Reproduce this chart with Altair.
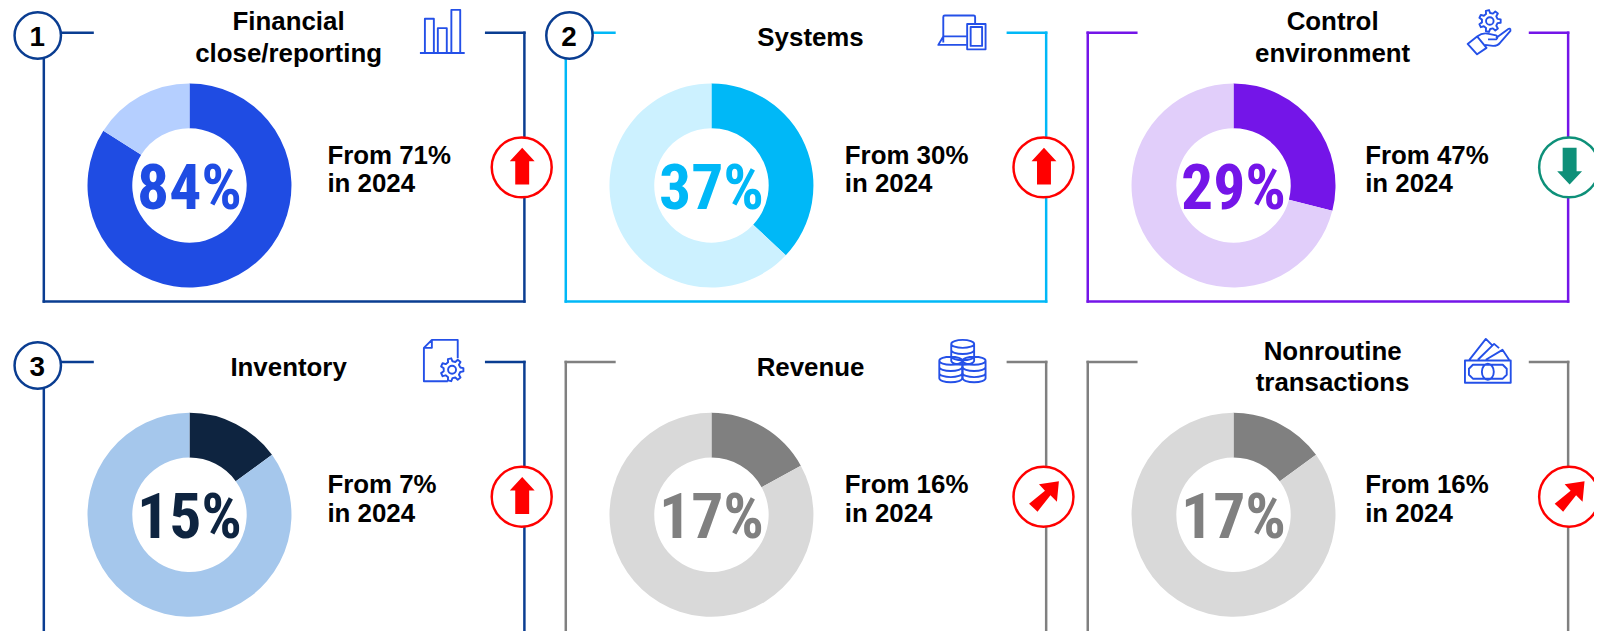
import math
import altair as alt
import pandas as pd

# ---------- values ----------
titles = [["Financial", "close/reporting"], ["Systems"], ["Control", "environment"],
          ["Inventory"], ["Revenue"], ["Nonroutine", "transactions"]]
labels = ["84%", "37%", "29%", "15%", "17%", "17%"]
slice_values = [84, 37, 29, 15, 17, 15]
from_lines = ["From 71%", "From 30%", "From 47%", "From 7%", "From 16%", "From 16%"]
year_line = "in 2024"
directions = ["up", "up", "down", "up", "diag", "diag"]
numbers = ["1", "2", None, "3", None, None]

# ---------- styles ----------
main_colors = ["#1F4CE3", "#00B8F7", "#7415E8", "#0E2440", "#808080", "#808080"]
light_colors = ["#B5CFFF", "#CCF1FF", "#E1CEFA", "#A5C7EC", "#D9D9D9", "#D9D9D9"]
frame_colors = ["#0A3D91", "#00B8F7", "#7415E8", "#0A3D91", "#808080", "#808080"]
NAVY, ICON, RED, GREEN = "#0A3D91", "#2450E8", "#FF0000", "#0E9079"

# ---------- layout (page pixels) ----------
W, H = 1594, 623
col_left = [44, 568.6, 1093.2]
col_right = [527, 1051.4, 1576]
col_title = [290, 814.6, 1339.3]
col_gap_l = [93, 617.5, 1142]
col_gap_r = [488.6, 1012.9, 1537.7]
col_cx = [190.4, 715, 1239.7]
col_text = [329, 849, 1372]
row_top = [31.3, 362.3]
row_bottom = [301.5, 640]
row_dy = [0, 331]
x_scale = alt.Scale(domain=[8, 8 + W], range=[0, W], nice=False, zero=False)
y_scale = alt.Scale(domain=[8, 8 + H], range=[0, H], nice=False, zero=False)
X = lambda f: alt.X(f, type="quantitative", scale=x_scale, axis=None)
Y = lambda f: alt.Y(f, type="quantitative", scale=y_scale, axis=None)


def gear(cx, cy, ro, ri, rh, n=7):
    pts = []
    for k in range(n):
        a = 2 * math.pi * k / n
        s = 2 * math.pi / n
        for off, r in [(-0.30, ri), (-0.17, ro), (0.17, ro), (0.30, ri)]:
            t = a + off * s
            pts.append((cx + r * math.cos(t), cy + r * math.sin(t)))
    d = "M" + "L".join(f"{p:.1f},{q:.1f}" for p, q in pts) + "Z"
    d += f"M{cx - rh:.1f},{cy:.1f}a{rh},{rh} 0 1,0 {2*rh},0a{rh},{rh} 0 1,0 {-2*rh},0"
    return d


def stack(cx, top, bottom, rx=11.5, ry=4, step=6.2):
    d = f"M{cx-rx},{top}a{rx},{ry} 0 1,0 {2*rx},0a{rx},{ry} 0 1,0 {-2*rx},0"
    d += f"M{cx-rx},{top}V{bottom}a{rx},{ry} 0 0,0 {2*rx},0V{top}"
    y = top + step
    while y < bottom - 1:
        d += f"M{cx-rx},{y}a{rx},{ry} 0 0,0 {2*rx},0"
        y += step
    return d


icon_paths = [
    "M-23,21.7H22M-18,21.7V-12.7H-9V21.7M-5,21.7V-3.3H4V21.7M8.6,21.7V-21.7H17.5V21.7",
    "M-18,10V-15.5Q-18,-17 -16.5,-17H12.5Q14,-17 14,-15.5V-9M-18,4L-23,12.5H5M-18,4H5"
    "M6,-8.5H24.5V17H6ZM9.5,-5.5H21V13.5H9.5Z",
    gear(0.8, -11, 11, 8, 3.8)
    + "M-21.5,12L-12,4.5L-2.5,16L-12,22.5ZM-12,4.5Q-6,0 0,2L7,3.5Q10,5 7,7.5L-1,7.5"
      "M7,6L18,-2Q22,-5 21.5,-1L11,11Q9,14 4,14L-4,13",
    "M14,-2V-20.5H-12L-20,-12.5V21H4M-12,-20.5V-12.5H-20" + gear(8.3, 9.5, 11.5, 8.5, 4),
    stack(0, -17, 0) + stack(-12, 0, 17.5) + stack(11.5, 0, 17.5),
    "M-23,0.7H23V23H-23ZM-15,5H15L19,9V15L15,19H-15L-19,15V9ZM6,12a6,8 0 1,0 -12,0a6,8 0 1,0 12,0"
    "M-18.6,0L-2,-21L5,-14M-10,0L6.3,-16L11.3,-11.7M-2,0L14.7,-10L21.4,0",
]
icon_xy = [(445, 30), (966, 31), (1496.5, 30.5), (446, 360.5), (967.5, 361), (1495.3, 360)]
arrow_paths = {
    "up": "M0,-18.5L12.5,-5H7V18.5H-7V-5H-12.5Z",
    "down": "M0,18.5L12.5,5H7V-18.5H-7V5H-12.5Z",
    "diag": "M15,-15.5L13,5L6.5,-1.5L-6.5,15L-15,7L1,-6L-5,-12.5Z",
}

# ---------- tables ----------
arcs, hrules, vrules, bigs, small, heads, circles, nums, arrows, icons = ([] for _ in range(10))
for i in range(6):
    c, r = i % 3, i // 3
    dy = row_dy[r]
    cx, cy = col_cx[c], 184.8 + dy
    v = slice_values[i]
    fc = frame_colors[i]
    arcs.append(dict(x=cx, y=cy, start=0, end=v, color=main_colors[i]))
    arcs.append(dict(x=cx, y=cy, start=v, end=100, color=light_colors[i]))
    top, bot = row_top[r], row_bottom[r]
    left, right = col_left[c], col_right[c]
    has_num = numbers[i] is not None
    num_cx = {0: 37.9, 1: 572.3}.get(c, 0)
    num_cy = 34 + dy + (0.7 if r else 0)
    hrules.append(dict(x=(num_cx if has_num else left), x2=col_gap_l[c], y=top, color=fc))
    hrules.append(dict(x=col_gap_r[c], x2=right, y=top, color=fc))
    hrules.append(dict(x=left, x2=right, y=bot, color=fc))
    vrules.append(dict(x=left, y=top if not has_num else num_cy, y2=bot, color=fc))
    vrules.append(dict(x=right, y=top, y2=bot, color=fc))
    bigs.append(dict(x=cx, y=208.3 + dy, text=labels[i], color=main_colors[i]))
    small.append(dict(x=col_text[c], y=163.3 + dy, text=from_lines[i]))
    small.append(dict(x=col_text[c], y=191.7 + dy, text=year_line))
    lines = titles[i]
    base = [[376 - 331 * (1 - r)], [360 - 331 * (1 - r), 391.7 - 331 * (1 - r)]][len(lines) - 1]
    if i == 1:
        base = [45]
    for t, yb in zip(lines, base):
        heads.append(dict(x=col_title[c], y=yb, text=t))
    col = GREEN if directions[i] == "down" else RED
    acx, acy = right - 2.7 if c < 2 else right + 1, 166.3 + dy + 0.3
    circles.append(dict(x=acx, y=acy, color=col, size=3632))
    if has_num:
        circles.append(dict(x=num_cx, y=num_cy, color=NAVY, size=2173))
        nums.append(dict(x=num_cx - 0.5, y=num_cy + 10.5, text=numbers[i]))
    arrows.append(dict(x=acx + 0.5, y=acy - 1.5 + (0.3 if directions[i] != "diag" else 1.5),
                       shape=arrow_paths[directions[i]], color=col))
    icons.append(dict(x=icon_xy[i][0], y=icon_xy[i][1], shape=icon_paths[i]))

COLOR = alt.Color("color:N", scale=None, legend=None)
BIG_FONT = "Roboto Condensed, Liberation Sans Narrow, Arial Narrow, sans-serif"
SANS = "Liberation Sans, Arial, sans-serif"

layers = [
    alt.Chart(pd.DataFrame(hrules)).mark_rule(strokeWidth=2.5, strokeCap="square").encode(
        x=X("x"), x2="x2", y=Y("y"), color=COLOR),
    alt.Chart(pd.DataFrame(vrules)).mark_rule(strokeWidth=2.5, strokeCap="square").encode(
        x=X("x"), y=Y("y"), y2="y2", color=COLOR),
    alt.Chart(pd.DataFrame(arcs)).mark_arc(outerRadius=102.5, innerRadius=57.5).encode(
        x=X("x"), y=Y("y"),
        theta=alt.Theta("start:Q", scale=alt.Scale(domain=[0, 100], range=[0, 2 * math.pi]), stack=None),
        theta2="end:Q", color=COLOR),
    alt.Chart(pd.DataFrame(circles)).mark_point(
        shape="circle", filled=False, fill="white", fillOpacity=1, opacity=1, strokeWidth=2.5).encode(
        x=X("x"), y=Y("y"),
        size=alt.Size("size:Q", scale=None, legend=None),
        stroke=alt.Stroke("color:N", scale=None, legend=None)),
    alt.Chart(pd.DataFrame(arrows)).mark_point(filled=True, size=4, opacity=1, strokeWidth=0).encode(
        x=X("x"), y=Y("y"),
        shape=alt.Shape("shape:N", scale=None, legend=None),
        color=COLOR),
    alt.Chart(pd.DataFrame(icons)).mark_point(
        filled=False, size=4, opacity=1, strokeWidth=1.9, color=ICON, strokeJoin="round").encode(
        x=X("x"), y=Y("y"),
        shape=alt.Shape("shape:N", scale=None, legend=None)),
    alt.Chart(pd.DataFrame(nums)).mark_text(
        font=SANS, fontSize=28, fontWeight="bold", color="black", align="center", baseline="alphabetic").encode(
        x=X("x"), y=Y("y"), text="text:N"),
    alt.Chart(pd.DataFrame(heads)).mark_text(
        font=SANS, fontSize=26, fontWeight="bold", color="black", align="center", baseline="alphabetic").encode(
        x=X("x"), y=Y("y"), text="text:N"),
    alt.Chart(pd.DataFrame(small)).mark_text(
        font=SANS, fontSize=26, fontWeight="bold", color="black", align="left", baseline="alphabetic").encode(
        x=X("x"), y=Y("y"), text="text:N"),
    alt.Chart(pd.DataFrame(bigs)).mark_text(
        font=BIG_FONT, fontSize=64, fontWeight="bold", align="center", baseline="alphabetic").encode(
        x=X("x"), y=Y("y"), text="text:N", color=COLOR),
]

chart = alt.layer(*layers).properties(
    width=W, height=H, padding=0, autosize=alt.AutoSizeParams(type="none"),
).configure_view(stroke=None).configure(background="white") if False else alt.layer(*layers).properties(
    width=W, height=H, padding=0, autosize=alt.AutoSizeParams(type="none"), background="white",
).configure_view(stroke=None)

chart.save("out.html", embed_options={"renderer": "svg", "actions": False})
